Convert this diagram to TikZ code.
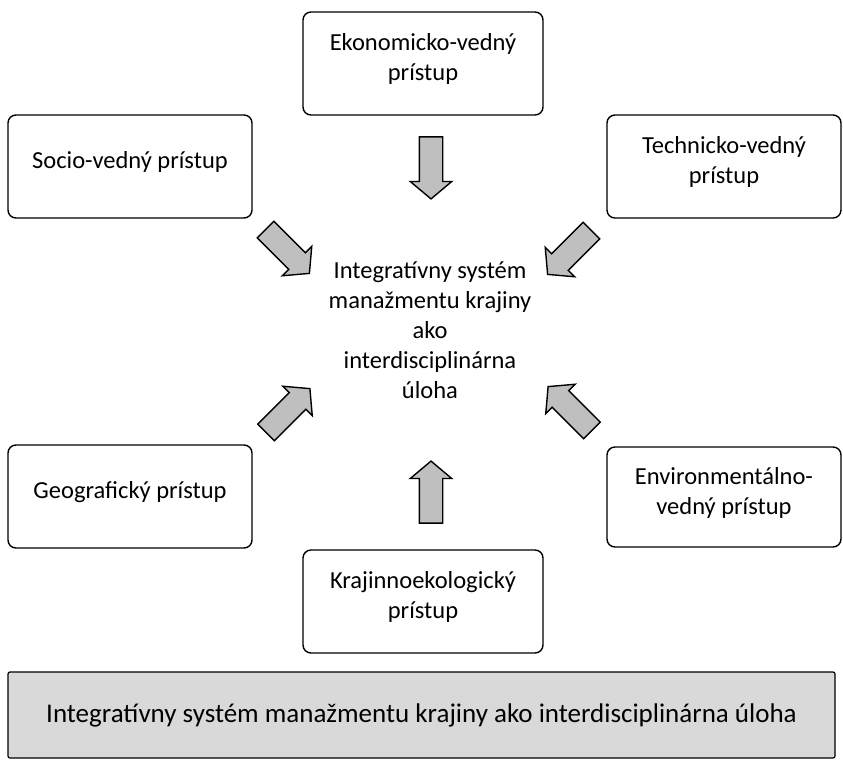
\documentclass[tikz,border=0pt]{standalone}
\usepackage{fontspec}
\setmainfont{Carlito}
\usetikzlibrary{shapes.arrows}

\begin{document}
\begin{tikzpicture}[x=1pt,y=-1pt,
  approach/.style={draw,line width=1.4pt,rounded corners=8pt,align=center,
    minimum width=240pt,minimum height=103pt,text depth=13pt,
    font=\fontsize{24.5}{30}\selectfont},
  blockarrow/.style={single arrow,draw,line width=1.4pt,fill=black!25,
    minimum height=62pt,minimum width=40pt,inner sep=11pt,
    single arrow head extend=9pt,single arrow tip angle=100}]
\useasboundingbox (0,0) rectangle (843,761);
\node[approach] (eko) at (423,63.5) {Ekonomicko-vedný\\prístup};
\node[approach,minimum width=244pt] (socio) at (130,166.5) {Socio-vedný prístup};
\node[approach,minimum width=234pt] (tech) at (724,166.5) {Technicko-vedný\\prístup};
\node[approach,minimum width=244pt] (geo) at (130,496.5) {Geografický prístup};
\node[approach,minimum width=234pt,minimum height=100pt] (env) at (724,497) {Environmentálno-\\vedný prístup};
\node[approach] (kraj) at (423,601.5) {Krajinnoekologický\\prístup};
\node[align=center,font=\fontsize{24.5}{30}\selectfont] (centre) at (430,330)
  {Integratívny systém\\manažmentu krajiny\\ako\\interdisciplinárna\\úloha};
% block arrows towards the centre
\node[blockarrow,rotate=-90] (a1) at (431,163) {};
\node[blockarrow,rotate=90] (a2) at (431,497) {};
\node[blockarrow,rotate=-45] (a3) at (284,248) {};
\node[blockarrow,rotate=-135] (a4) at (573,249) {};
\node[blockarrow,rotate=45] (a5) at (284.5,414) {};
\node[blockarrow,rotate=135] (a6) at (573.5,412) {};
\node[draw,line width=1.2pt,fill=black!15,rounded corners=2pt,minimum width=827pt,
  minimum height=86pt,font=\fontsize{27}{30}\selectfont] (title) at (421.5,715)
  {Integratívny systém manažmentu krajiny ako interdisciplinárna úloha};
\end{tikzpicture}
\end{document}
